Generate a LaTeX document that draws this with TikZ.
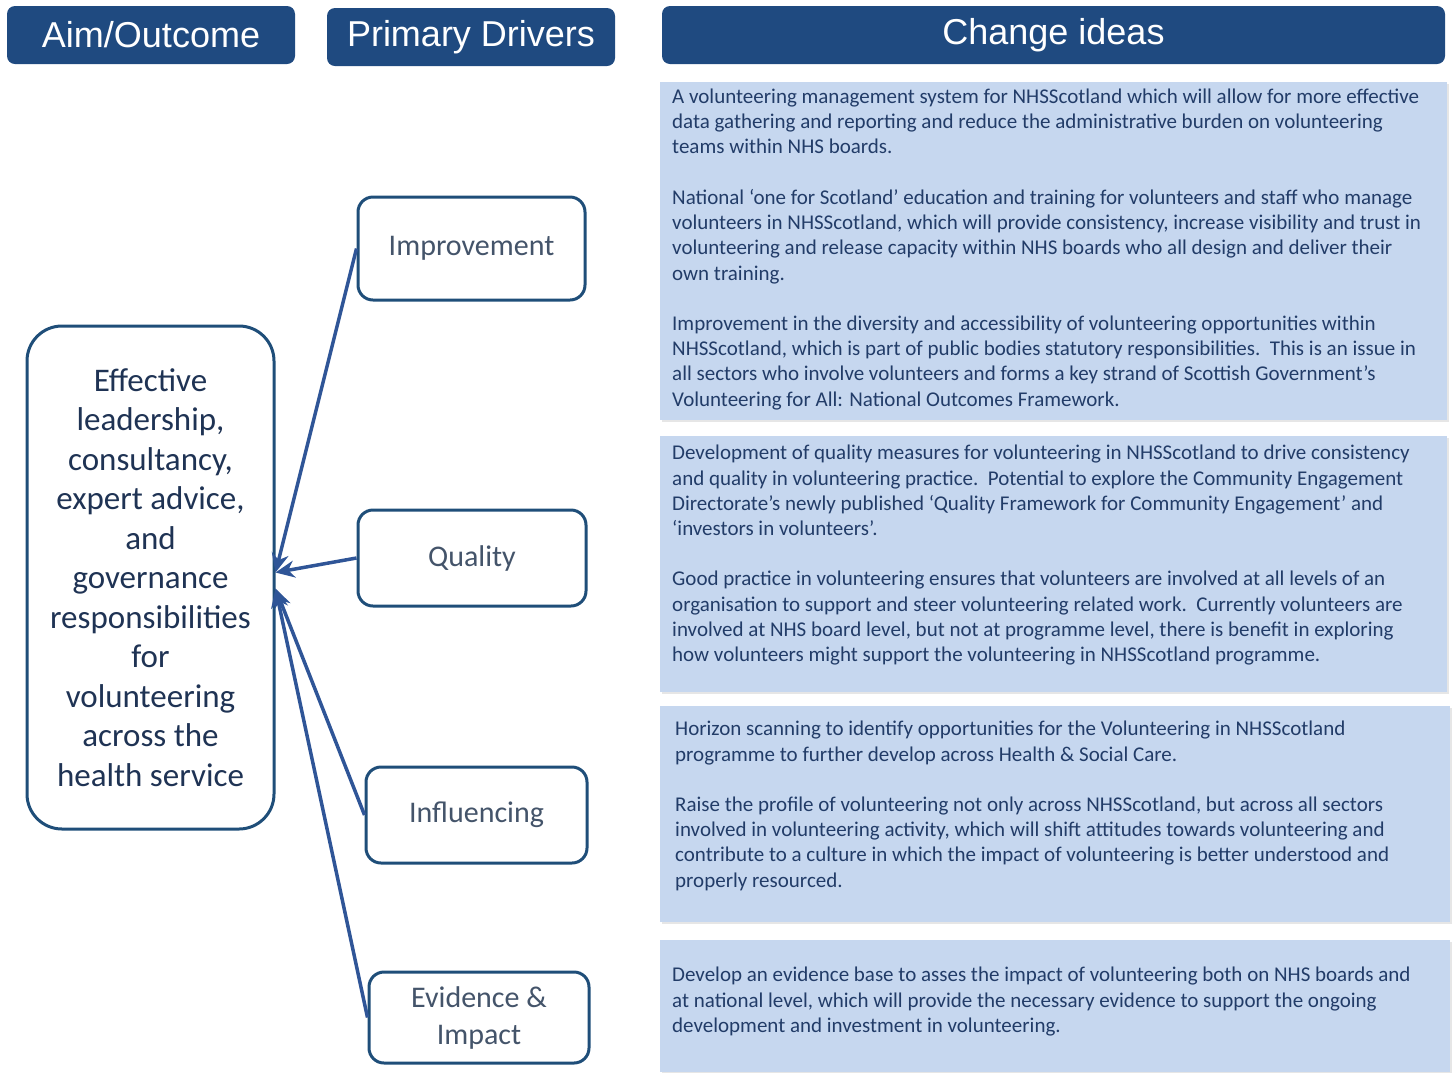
\documentclass[tikz,border=0pt]{standalone}
\usepackage{fontspec}
\setmainfont{Carlito}
\newfontfamily\headfont{Liberation Sans}
\usetikzlibrary{arrows.meta,shadows}
\definecolor{headblue}{HTML}{1F4A80}
\definecolor{ideafill}{HTML}{C6D7EF}
\definecolor{ideaink}{HTML}{223C68}
\definecolor{boxline}{HTML}{1F4E79}
\definecolor{drvink}{HTML}{44546A}
\definecolor{aimink}{HTML}{1F3354}
\definecolor{arrowblue}{HTML}{2F5597}

\begin{document}
\begin{tikzpicture}[x=1pt, y=-1pt,
  header/.style={fill=headblue, rounded corners=8pt, text=white, font=\headfont\fontsize{36}{40}\selectfont, minimum height=58pt, inner sep=0pt},
  ideabox/.style={fill=ideafill, anchor=north west, inner sep=0pt, drop shadow={shadow xshift=2pt, shadow yshift=-2pt, opacity=0.2}},
  ideatext/.style={anchor=north west, align=left, inner sep=0pt, text=ideaink, font=\fontsize{21}{25.3}\selectfont},
  driver/.style={draw=boxline, line width=3pt, rounded corners=15pt, fill=white, text=drvink, font=\fontsize{30}{37}\selectfont, align=center, inner sep=0pt},
  link/.style={draw=arrowblue, line width=3.5pt, -{Stealth[length=19pt,width=17pt]}}]
\useasboundingbox (0,0) rectangle (1454,1072);

\node[header, minimum width=288pt] (aimhead) at (151,35) {Aim/Outcome};
\node[header, minimum width=288pt] (drvhead) at (471,37) {Primary Drivers};
\node[header, minimum width=783pt] (idehead) at (1053.5,35) {Change ideas};

\node[driver, rounded corners=35pt, minimum width=247pt, minimum height=503pt, text=aimink, font=\fontsize{33}{39.5}\selectfont] (aim) at (150.5,577.5)
  {Effective\\leadership,\\consultancy,\\expert advice,\\and\\governance\\responsibilities\\for\\volunteering\\across the\\health service};

\node[driver, minimum width=227pt, minimum height=103pt] (imp) at (471.5,248.5) {Improvement};
\node[driver, minimum width=228pt, minimum height=96pt] (qual) at (472,558) {Quality};
\node[driver, minimum width=221pt, minimum height=96pt] (infl) at (476.5,815) {Influencing};
\node[driver, minimum width=220pt, minimum height=91pt] (evid) at (479,1017.5) {Evidence \&\\Impact};

\coordinate (tipup) at ([yshift=5pt]aim.east);
\coordinate (tipdown) at ([yshift=-11pt]aim.east);
\draw[link] (imp.west) -- (tipup);
\draw[link] (qual.west) -- (tipup);
\draw[link] (infl.west) -- (tipdown);
\draw[link] (evid.west) -- (tipdown);

\node[ideabox, minimum width=787pt, minimum height=338pt] (box1) at (660,82) {};
\node[ideatext] (idea1) at (672,88.5) {A volunteering management system for NHSScotland which will allow for more effective\\
data gathering and reporting and reduce the administrative burden on volunteering\\
teams within NHS boards.\\[25pt]
National ‘one for Scotland’ education and training for volunteers and staff who manage\\
volunteers in NHSScotland, which will provide consistency, increase visibility and trust in\\
volunteering and release capacity within NHS boards who all design and deliver their\\
own training.\\[25pt]
Improvement in the diversity and accessibility of volunteering opportunities within\\
NHSScotland, which is part of public bodies statutory responsibilities.\ \ This is an issue in\\
all sectors who involve volunteers and forms a key strand of Scottish Government’s\\
Volunteering for All: National Outcomes Framework.};

\node[ideabox, minimum width=787pt, minimum height=256pt] (box2) at (660,436) {};
\node[ideatext] (idea2) at (672,445) {Development of quality measures for volunteering in NHSScotland to drive consistency\\
and quality in volunteering practice.\ \ Potential to explore the Community Engagement\\
Directorate’s newly published ‘Quality Framework for Community Engagement’ and\\
‘investors in volunteers’.\\[25pt]
Good practice in volunteering ensures that volunteers are involved at all levels of an\\
organisation to support and steer volunteering related work.\ \ Currently volunteers are\\
involved at NHS board level, but not at programme level, there is benefit in exploring\\
how volunteers might support the volunteering in NHSScotland programme.};

\node[ideabox, minimum width=790pt, minimum height=216pt] (box3) at (660,706) {};
\node[ideatext] (idea3) at (675,721) {Horizon scanning to identify opportunities for the Volunteering in NHSScotland\\
programme to further develop across Health \& Social Care.\\[25pt]
Raise the profile of volunteering not only across NHSScotland, but across all sectors\\
involved in volunteering activity, which will shift attitudes towards volunteering and\\
contribute to a culture in which the impact of volunteering is better understood and\\
properly resourced.};

\node[ideabox, minimum width=790pt, minimum height=132pt] (box4) at (660,940) {};
\node[ideatext] (idea4) at (672,967) {Develop an evidence base to asses the impact of volunteering both on NHS boards and\\
at national level, which will provide the necessary evidence to support the ongoing\\
development and investment in volunteering.};
\end{tikzpicture}
\end{document}
